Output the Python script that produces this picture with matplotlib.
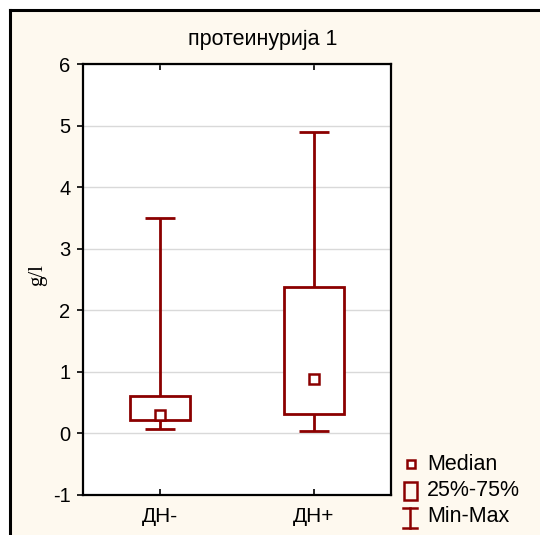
import matplotlib
matplotlib.use("Agg")
import matplotlib.pyplot as plt
from matplotlib.patches import Rectangle
from matplotlib.lines import Line2D

plt.rcParams['font.family'] = ['Liberation Sans', 'DejaVu Sans']

categories = ['ДН-', 'ДН+']
mins = [0.08, 0.04]
q1s = [0.21, 0.31]
medians = [0.30, 0.89]
q3s = [0.60, 2.38]
maxs = [3.50, 4.90]
yticks = [-1, 0, 1, 2, 3, 4, 5, 6]

title = 'протеинурија 1'
ylabel = 'g/l'
legend_labels = ['Median', '25%-75%', 'Min-Max']

W, H = 540, 535
DARK = '#8B0000'
BG = '#FEF9EF'

fig = plt.figure(figsize=(W / 100, H / 100), dpi=100)
fig.patch.set_facecolor('white')

def fx(px):
    return px / W

def fy(py):
    return 1 - py / H

# cream panel with black frame (top/left)
fig.add_artist(Rectangle((fx(10), 0), 1, fy(10), transform=fig.transFigure,
                         facecolor=BG, edgecolor='none', zorder=0))
fig.add_artist(Line2D([fx(10), 1], [fy(10), fy(10)], transform=fig.transFigure,
                      color='black', lw=2.2, zorder=1))
fig.add_artist(Line2D([fx(10), fx(10)], [0, fy(10)], transform=fig.transFigure,
                      color='black', lw=2.2, zorder=1))

ax = fig.add_axes([fx(83), fy(495), fx(391) - fx(83), fy(64) - fy(495)])
ax.set_facecolor('white')
ax.set_xlim(0.5, 2.5)
ax.set_ylim(-1, 6)
ax.set_yticks(yticks)
ax.set_yticklabels([str(t) for t in yticks])
positions = list(range(1, len(categories) + 1))
ax.set_xticks(positions)
ax.set_xticklabels(categories)
for s in ax.spines.values():
    s.set_linewidth(1.6)
    s.set_color('black')
ax.yaxis.grid(True, color='#D9D9D9', lw=1.0)
ax.xaxis.grid(False)
ax.set_axisbelow(True)
ax.tick_params(axis='y', direction='out', length=4, width=1.2, labelsize=14.5, pad=5, left=True, right=False)
ax.tick_params(axis='x', direction='in', length=4, width=1.2, labelsize=15, pad=9, top=True, bottom=True)

bw = 0.39
cw = 0.2
for x, mn, a, md, b, mx in zip(positions, mins, q1s, medians, q3s, maxs):
    ax.add_patch(Rectangle((x - bw / 2, a), bw, b - a, facecolor='white',
                           edgecolor=DARK, lw=2.0, zorder=3))
    ax.vlines(x, b, mx, color=DARK, lw=2.0, zorder=3)
    ax.vlines(x, mn, a, color=DARK, lw=2.0, zorder=3)
    ax.hlines([mx, mn], x - cw / 2, x + cw / 2, color=DARK, lw=2.0, zorder=3)
    ax.plot([x], [md], marker='s', ms=6.5, mfc='white', mec=DARK, mew=1.8, zorder=4)

fig.text(fx(263), fy(40), title, ha='center', va='center', fontsize=15.5)
fig.text(fx(38), fy(275), ylabel, ha='center', va='center', rotation=90,
         fontsize=15, family=['Liberation Serif', 'DejaVu Serif'])

# legend
fig.add_artist(Line2D([fx(411)], [fy(464)], transform=fig.transFigure, marker='s',
                      ms=5.5, mfc='white', mec=DARK, mew=1.8))
fig.add_artist(Rectangle((fx(404), fy(500)), fx(417) - fx(404), fy(482) - fy(500),
                         transform=fig.transFigure, facecolor='none', edgecolor=DARK, lw=1.8))
fig.add_artist(Line2D([fx(410), fx(410)], [fy(508), fy(528)], transform=fig.transFigure,
                      color=DARK, lw=1.8))
fig.add_artist(Line2D([fx(403), fx(417)], [fy(508), fy(508)], transform=fig.transFigure,
                      color=DARK, lw=1.8))
fig.add_artist(Line2D([fx(403), fx(417)], [fy(528), fy(528)], transform=fig.transFigure,
                      color=DARK, lw=1.8))
for lab, py in zip(legend_labels, [464, 491, 517]):
    fig.text(fx(427), fy(py), lab, ha='left', va='center', fontsize=15.5)

fig.savefig('out.png', dpi=100, facecolor=fig.get_facecolor())
